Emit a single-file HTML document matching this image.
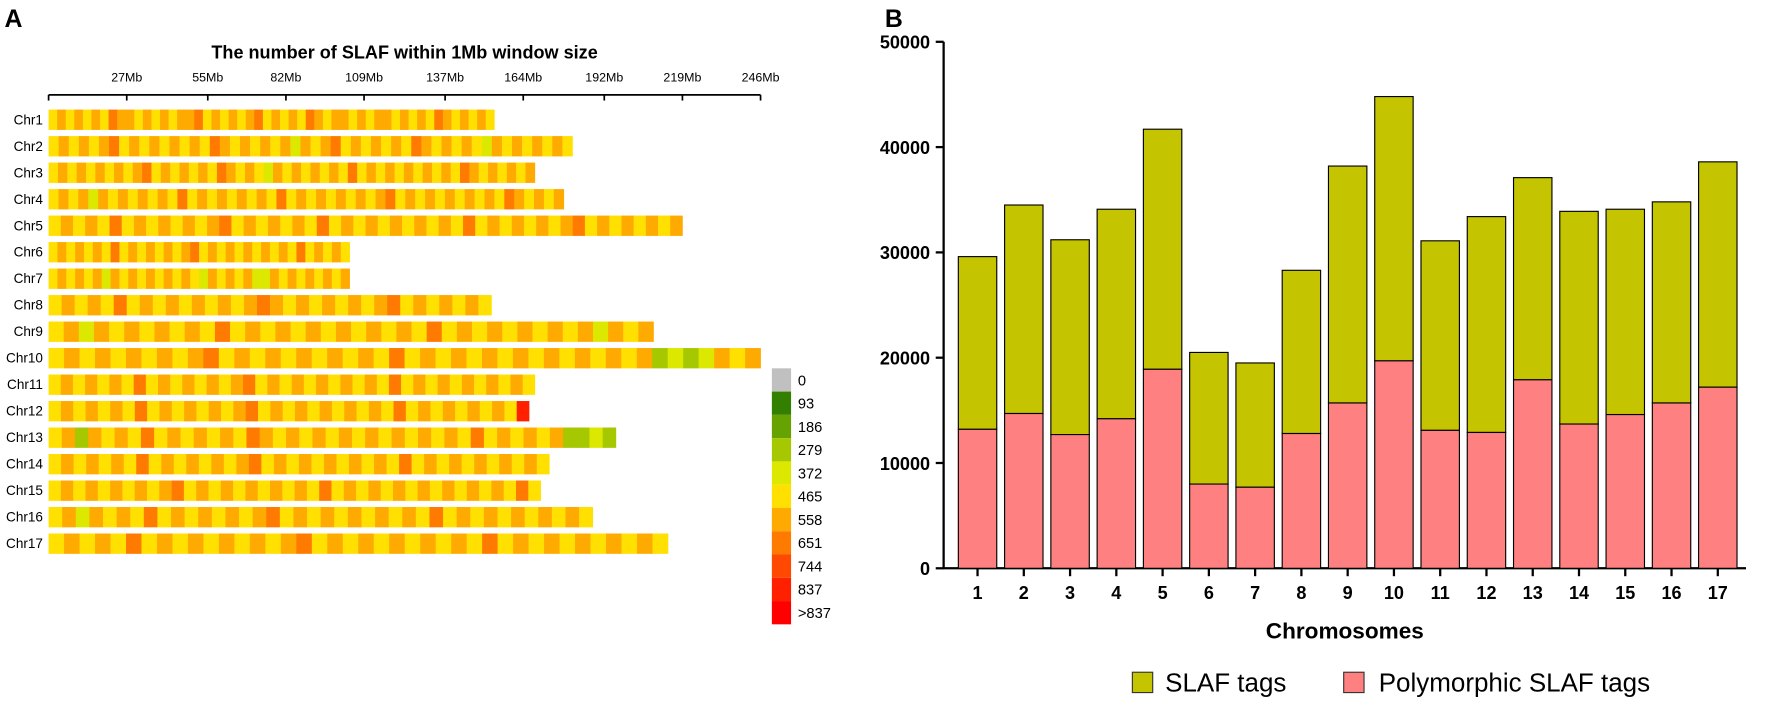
<!DOCTYPE html>
<html><head><meta charset="utf-8"><style>
body{margin:0;background:#fff;}
svg{display:block;font-family:"Liberation Sans",Arial,sans-serif;}
</style></head><body>
<svg id="fig" width="1772" height="705" viewBox="0 0 1568 624" preserveAspectRatio="none">
<text x="4" y="24" font-size="22" font-weight="bold">A</text>
<text x="783" y="24" font-size="22" font-weight="bold">B</text>
<text x="358" y="52" font-size="16" font-weight="bold" text-anchor="middle">The number of SLAF within 1Mb window size</text>
<g id="ga"></g>
<g id="gb"></g>
</svg>
<script>
const chrNames=["Chr1","Chr2","Chr3","Chr4","Chr5","Chr6","Chr7","Chr8","Chr9","Chr10","Chr11","Chr12","Chr13","Chr14","Chr15","Chr16","Chr17"];
const chrLengthsMb=[154,181,168,178,219,104,104,153,209,246,168,166,196,173,170,188,214];
const mbTicks=[0,27,55,82,109,137,164,192,219,246];
const mbTickLabels=["","27Mb","55Mb","82Mb","109Mb","137Mb","164Mb","192Mb","219Mb","246Mb"];
const legendLabels=["0","93","186","279","372","465","558","651","744","837",">837"];
const legendColors=["#c0c0c0","#338000","#66a300","#a6c800","#dde800","#ffe000","#ffaa00","#ff7a00","#ff4800","#ff2000","#ff0000"];
// density level pattern per chromosome (index into legendColors), each char = one window group
const levelPatterns=[
"5656565766565656675656567565657656656566565657656565",
"5656567565656565765656564656756565657656565465656565",
"5656565656756565657656546565656575656565656576565656",
"5656465656565756565656575656565656756565656565765656",
"5656575656565675656565756565656565756565656756565656",
"5656565756565656756565656565756565",
"5656564656565656546565644656565656",
"5656575656565656765656565675656565",
"5646565656575656565656565756565656564656",
"5656565656756565656565756565656565656563434656",
"5656565756565656756565656565756565656565",
"565656575656565675656565656575656565659",
"5636565756565657656565656565656575656563343",
"5656565756565656756565656565756565656565",
"5656565656756565656565756565656565656575",
"5646565756565656756565656565756565656565",
"5656575656565656756565656565756565656565"];
const chromosomes=["1","2","3","4","5","6","7","8","9","10","11","12","13","14","15","16","17"];
const slafTags=[29600,34500,31200,34100,41700,20500,19500,28300,38200,44800,31100,33400,37100,33900,34100,34800,38600];
const polySlafTags=[13200,14700,12700,14200,18900,8000,7700,12800,15700,19700,13100,12900,17900,13700,14600,15700,17200];
const yTicks=[0,10000,20000,30000,40000,50000];

const NS="http://www.w3.org/2000/svg";
function mk(p,t,a){const e=document.createElementNS(NS,t);for(const k in a)e.setAttribute(k,a[k]);p.appendChild(e);return e;}
const ga=document.getElementById('ga'),gb=document.getElementById('gb');
// Panel A
const ax0=43,ax1=673;
const xMb=v=>ax0+(v/246)*(ax1-ax0);
const rowY=i=>97+i*23.45;
let l=mk(ga,'line',{x1:ax0,y1:84,x2:ax1,y2:84,stroke:'#000','stroke-width':1.5});


mbTicks.forEach((t,i)=>{
 const x=xMb(t);
 const tk=mk(ga,'line',{x1:x,y1:84,x2:x,y2:89,stroke:'#000','stroke-width':1.5});
 
 
 if(mbTickLabels[i]){const tx=mk(ga,'text',{x:x,y:72,'font-size':11,'text-anchor':'middle'});tx.textContent=mbTickLabels[i];
 
 }
});
chrNames.forEach((n,i)=>{
 const y=rowY(i);
 const lb=mk(ga,'text',{x:38,y:y+13,'font-size':12,'text-anchor':'end'});lb.textContent=n;
 
 
 const pat=levelPatterns[i],L=chrLengthsMb[i],w=L/pat.length;
 for(let j=0;j<pat.length;j++){
  const c=mk(ga,'rect',{x:xMb(j*w),y:y,width:xMb((j+1)*w)-xMb(j*w)+0.3,height:18,fill:legendColors[+pat[j]]});
  
  
 }
});
legendLabels.forEach((t,i)=>{
 const y=326+i*20.6;
 const r=mk(ga,'rect',{x:683,y:y,width:17,height:20.6,fill:legendColors[i]});
 
 
 const tx=mk(ga,'text',{x:706,y:y+15,'font-size':13});tx.textContent=t;
 
 
});
// Panel B
const y0=503,y50=37;
const yv=v=>y0-(v/50000)*(y0-y50);
const xc=i=>865+i*40.94;
const bw=34;
let ya=mk(gb,'line',{x1:835,y1:y50,x2:835,y2:y0,stroke:'#000','stroke-width':2});


let xa=mk(gb,'line',{x1:834,y1:y0,x2:1545,y2:y0,stroke:'#000','stroke-width':2});


yTicks.forEach(t=>{
 const y=yv(t);
 const tk=mk(gb,'line',{x1:828,y1:y,x2:835,y2:y,stroke:'#000','stroke-width':2});
 
 
 const tx=mk(gb,'text',{x:823,y:y+6,'font-size':16,'font-weight':'bold','text-anchor':'end'});tx.textContent=t;
 
 
});
chromosomes.forEach((c,i)=>{
 const x=xc(i);
 const b1=mk(gb,'rect',{x:x-bw/2,y:yv(slafTags[i]),width:bw,height:yv(polySlafTags[i])-yv(slafTags[i]),fill:'#c4c400',stroke:'#000','stroke-width':1});
 
 
 const b2=mk(gb,'rect',{x:x-bw/2,y:yv(polySlafTags[i]),width:bw,height:y0-yv(polySlafTags[i]),fill:'#ff8080',stroke:'#000','stroke-width':1});
 
 
 const tk=mk(gb,'line',{x1:x,y1:y0,x2:x,y2:y0+7,stroke:'#000','stroke-width':2});
 
 
 const tx=mk(gb,'text',{x:x,y:530,'font-size':16,'font-weight':'bold','text-anchor':'middle'});tx.textContent=c;
 
 
});
let xt=mk(gb,'text',{x:1190,y:565,'font-size':20,'font-weight':'bold','text-anchor':'middle'});xt.textContent='Chromosomes';


let s1=mk(gb,'rect',{x:1002,y:595,width:18,height:18,fill:'#c4c400',stroke:'#333','stroke-width':1});


let t1=mk(gb,'text',{x:1031,y:612,'font-size':23});t1.textContent='SLAF tags';


let s2=mk(gb,'rect',{x:1189,y:595,width:18,height:18,fill:'#ff8080',stroke:'#333','stroke-width':1});


let t2=mk(gb,'text',{x:1220,y:612,'font-size':23});t2.textContent='Polymorphic SLAF tags';


</script>
</body></html>
